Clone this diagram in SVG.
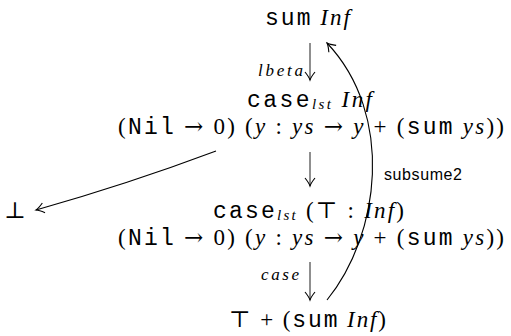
<svg xmlns="http://www.w3.org/2000/svg" width="511" height="336" viewBox="0 0 511 336">
<defs>
<style>
text{font-family:"Liberation Serif","DejaVu Serif",serif;font-size:23px;fill:#000;white-space:pre}
.tt{font-family:"Liberation Mono","DejaVu Sans Mono",monospace}
.it{font-style:italic}
.sub{font-size:15px;font-style:italic}
.lbl{font-size:17px;font-style:italic}
.sans{font-family:"Liberation Sans","DejaVu Sans",sans-serif;font-size:16px}
.sym{font-family:"DejaVu Serif",serif;font-weight:300}
.conn{fill:none;stroke:#000;stroke-width:1.1}
.v{fill:none;stroke:#333;stroke-width:1.1}
</style>
<marker id="ah" viewBox="-10 -6 12 12" markerWidth="12" markerHeight="12" refX="0" refY="0" orient="auto" markerUnits="userSpaceOnUse">
<path d="M-8,-5 Q-3,-1 0,0 Q-3,1 -8,5" fill="none" stroke="#000" stroke-width="1.1"/>
</marker>
</defs>
<g id="connectors">
<line class="v" x1="310" y1="43" x2="310" y2="80" marker-end="url(#ah)"/>
<line class="v" x1="310" y1="152" x2="310" y2="186" marker-end="url(#ah)"/>
<line class="v" x1="310" y1="262" x2="310" y2="300" marker-end="url(#ah)"/>
<path class="conn" d="M327,300 C380,235 395,115 327,43" marker-end="url(#ah)"/>
<path class="conn" d="M216,151 Q128,184 36,210" marker-end="url(#ah)"/>
<text class="lbl" x="258" y="76" textLength="45">lbeta</text>
<text class="lbl" x="261" y="280" textLength="38">case</text>
<text class="sans" x="384" y="180" textLength="78">subsume2</text>
</g>
<g id="n1"><text x="265" y="25" textLength="85"><tspan class="tt">sum</tspan> <tspan class="it">Inf</tspan></text></g>
<g id="n2">
<text x="247" y="107" textLength="125"><tspan class="tt">case</tspan><tspan class="sub" dy="2">lst</tspan><tspan dy="-2"> </tspan><tspan class="it">Inf</tspan></text>
<text x="118" y="134" textLength="386">(<tspan class="tt">Nil</tspan> <tspan class="sym">→</tspan> 0) (<tspan class="it">y</tspan> : <tspan class="it">ys</tspan> <tspan class="sym">→</tspan> <tspan class="it">y</tspan> + (<tspan class="tt">sum</tspan> <tspan class="it">ys</tspan>))</text>
</g>
<g id="n3">
<text x="213" y="218" textLength="191"><tspan class="tt">case</tspan><tspan class="sub" dy="2">lst</tspan><tspan dy="-2"> (</tspan><tspan class="sym">⊤</tspan> : <tspan class="it">Inf</tspan>)</text>
<text x="118" y="245" textLength="386">(<tspan class="tt">Nil</tspan> <tspan class="sym">→</tspan> 0) (<tspan class="it">y</tspan> : <tspan class="it">ys</tspan> <tspan class="sym">→</tspan> <tspan class="it">y</tspan> + (<tspan class="tt">sum</tspan> <tspan class="it">ys</tspan>))</text>
</g>
<g id="n4"><text x="229" y="327" textLength="157"><tspan class="sym">⊤</tspan> + (<tspan class="tt">sum</tspan> <tspan class="it">Inf</tspan>)</text></g>
<g id="n5"><text class="sym" x="15" y="218" text-anchor="middle">⊥</text></g>
</svg>
